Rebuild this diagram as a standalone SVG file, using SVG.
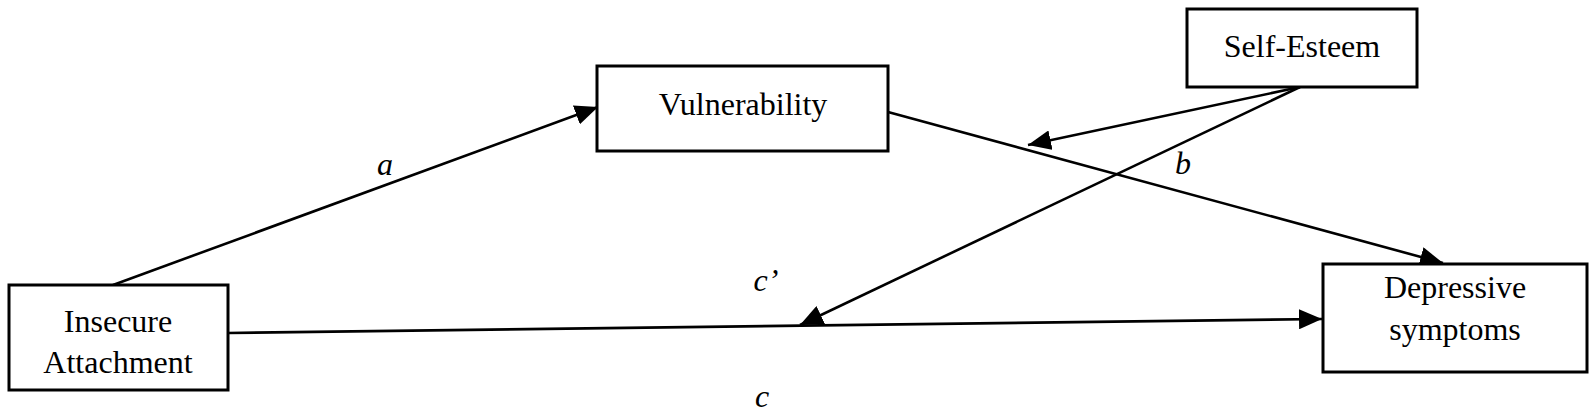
<svg xmlns="http://www.w3.org/2000/svg" width="1596" height="416" viewBox="0 0 1596 416">
<style>
.box{fill:#fff;stroke:#000;stroke-width:3}
.t{font-family:"Liberation Serif","Times New Roman",serif;font-size:32px;fill:#000;text-anchor:middle}
.l{font-family:"Liberation Serif","Times New Roman",serif;font-size:32px;font-style:italic;fill:#000;text-anchor:middle}
.c{stroke:#000;stroke-width:2.6;fill:none;marker-end:url(#ah)}
</style>
<defs>
<marker id="ah" markerUnits="userSpaceOnUse" viewBox="0 0 23 20" refX="23" refY="10" markerWidth="23" markerHeight="20" orient="auto">
<path d="M0,0 L23,10 L0,20 Z" fill="#000"/>
</marker>
</defs>
<rect width="1596" height="416" fill="#fff"/>
<g id="connectors">
<line class="c" x1="113" y1="285" x2="598" y2="107"/>
<line class="c" x1="888" y1="112" x2="1443" y2="263"/>
<line class="c" x1="1300" y1="87" x2="1028" y2="145"/>
<line class="c" x1="1300" y1="87" x2="800" y2="325"/>
<line class="c" x1="228" y1="333" x2="1322" y2="319"/>
</g>
<g id="labels">
<text class="l" x="385" y="175">a</text>
<text class="l" x="1183" y="174">b</text>
<text class="l" x="766" y="291">c’</text>
<text class="l" x="762" y="407">c</text>
</g>
<g id="insecure">
<rect class="box" x="9" y="285" width="219" height="105"/>
<text class="t" x="118" y="332">Insecure</text>
<text class="t" x="118" y="373">Attachment</text>
</g>
<g id="vulnerability">
<rect class="box" x="597" y="66" width="291" height="85"/>
<text class="t" x="743" y="115">Vulnerability</text>
</g>
<g id="selfesteem">
<rect class="box" x="1187" y="9" width="230" height="78"/>
<text class="t" x="1302" y="57">Self-Esteem</text>
</g>
<g id="depressive">
<rect class="box" x="1323" y="264" width="264" height="108"/>
<text class="t" x="1455" y="298">Depressive</text>
<text class="t" x="1455" y="340">symptoms</text>
</g>
</svg>
